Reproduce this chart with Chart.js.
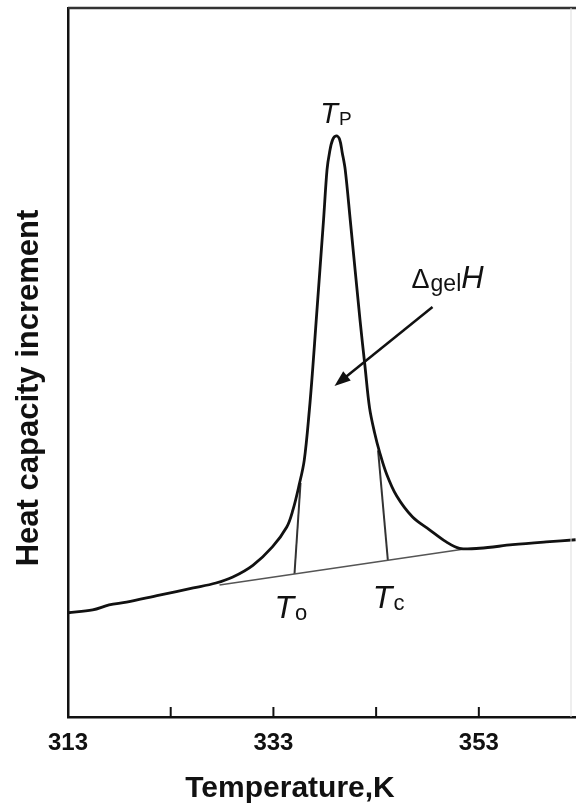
<!DOCTYPE html>
<html>
<head>
<meta charset="utf-8">
<script src="https://cdn.jsdelivr.net/npm/chart.js@4/dist/chart.umd.min.js"></script>
<style>
  html, body { margin: 0; padding: 0; background: #fff; }
  #wrap { width: 576px; height: 810px; }
</style>
</head>
<body>
<div id="wrap"><canvas id="dsc"></canvas></div>
<script>
// DSC trace (K vs. arbitrary heat capacity units)
const temperature = [
  313.0, 315.4, 317.0, 318.7, 321.9, 325.2, 327.4, 329.05, 331.0,
  332.9, 334.3, 334.9, 335.5, 336.0, 336.5, 336.84, 337.17, 337.88, 338.22,
  338.46, 338.76, 339.12, 339.44, 339.70, 339.99, 340.48, 341.43, 341.92, 342.36,
  342.85, 343.33, 344.01, 344.99, 346.55, 348.20, 349.83, 351.12, 353.07, 356.28,
  359.56, 362.42
];
const heatCapacity = [
  14.7, 15.1, 15.8, 16.2, 17.2, 18.2, 18.9, 19.75, 21.4,
  24.0, 26.8, 29.2, 32.7, 36.2, 43.3, 49.4, 56.0, 70.1, 77.2,
  79.6, 81.4, 81.95, 81.5, 79.6, 77.2, 70.1, 56.0, 49.4, 43.6,
  40.1, 37.4, 34.3, 31.2, 28.2, 26.4, 24.7, 23.8, 23.8, 24.3,
  24.7, 25.0
];

// construction lines
const baselineT = [327.75, 351.61];
const baselineCp = [18.62, 23.70];
const onsetT = [335.05, 335.64];
const onsetCp = [20.17, 33.0];
const endsetT = [344.14, 343.19];
const endsetCp = [22.14, 37.6];
const arrowT = [348.49, 338.95];
const arrowCp = [57.83, 46.69];

const xTicks = [313, 323, 333, 343, 353];
const xTickLabels = ["313", "", "333", "", "353"];

const FONT = "'Liberation Sans', Arial, sans-serif";

function pts(xs, ys) {
  return xs.map((x, i) => ({ x: x, y: ys[i] }));
}

// main text plus a subscript, returns the x where it ends
function subText(ctx, x, y, main, mainFont, sub, subFont, subDy) {
  ctx.font = mainFont;
  ctx.fillText(main, x, y);
  const w = ctx.measureText(main).width;
  ctx.font = subFont;
  ctx.fillText(sub, x + w + 1, y + subDy);
  return x + w + 1 + ctx.measureText(sub).width;
}

const decorations = {
  id: "decorations",
  afterDatasetsDraw(chart) {
    const { ctx, chartArea: a, scales: { x, y } } = chart;
    ctx.save();

    // top and right frame
    ctx.strokeStyle = "#333";
    ctx.lineWidth = 2.5;
    ctx.beginPath();
    ctx.moveTo(a.left, a.top);
    ctx.lineTo(a.right, a.top);
    ctx.stroke();
    ctx.strokeStyle = "#ddd";
    ctx.lineWidth = 1;
    ctx.beginPath();
    ctx.moveTo(a.right - 5, a.top);
    ctx.lineTo(a.right - 5, a.bottom);
    ctx.stroke();

    // inward ticks on the temperature axis
    ctx.strokeStyle = "#111";
    ctx.lineWidth = 2;
    xTicks.slice(1).forEach(t => {
      const px = x.getPixelForValue(t);
      ctx.beginPath();
      ctx.moveTo(px, a.bottom);
      ctx.lineTo(px, a.bottom - 10);
      ctx.stroke();
    });

    // arrow into the peak area
    const x0 = x.getPixelForValue(arrowT[0]), y0 = y.getPixelForValue(arrowCp[0]);
    const x1 = x.getPixelForValue(arrowT[1]), y1 = y.getPixelForValue(arrowCp[1]);
    const ang = Math.atan2(y1 - y0, x1 - x0);
    ctx.lineWidth = 2.5;
    ctx.beginPath();
    ctx.moveTo(x0, y0);
    ctx.lineTo(x1 - 12 * Math.cos(ang), y1 - 12 * Math.sin(ang));
    ctx.stroke();
    ctx.fillStyle = "#111";
    ctx.beginPath();
    ctx.moveTo(x1, y1);
    ctx.lineTo(x1 - 16 * Math.cos(ang) + 6 * Math.sin(ang), y1 - 16 * Math.sin(ang) - 6 * Math.cos(ang));
    ctx.lineTo(x1 - 16 * Math.cos(ang) - 6 * Math.sin(ang), y1 - 16 * Math.sin(ang) + 6 * Math.cos(ang));
    ctx.closePath();
    ctx.fill();

    // labels
    ctx.fillStyle = "#111";
    ctx.textBaseline = "alphabetic";
    ctx.textAlign = "left";

    const peak = heatCapacity.indexOf(Math.max(...heatCapacity));
    const pkx = x.getPixelForValue(temperature[peak]);
    const pky = y.getPixelForValue(heatCapacity[peak]);
    subText(ctx, pkx - 16, pky - 13, "T", "italic 29px " + FONT, "P", "19px " + FONT, 2);

    const ox = x.getPixelForValue(onsetT[0]), oy = y.getPixelForValue(onsetCp[0]);
    subText(ctx, ox - 20, oy + 44, "T", "italic 32px " + FONT, "o", "22px " + FONT, 2);

    const cx = x.getPixelForValue(endsetT[0]), cy = y.getPixelForValue(endsetCp[0]);
    subText(ctx, cx - 15, cy + 48, "T", "italic 32px " + FONT, "c", "22px " + FONT, 2);

    let hx = subText(ctx, x0 - 21, y0 - 19, "\u0394", "27px " + FONT, "gel", "23px " + FONT, 3);
    ctx.font = "italic 31px " + FONT;
    ctx.fillText("H", hx, y0 - 19);

    // axis titles
    ctx.font = "bold 30px " + FONT;
    ctx.textAlign = "center";
    ctx.fillText("Temperature,K", 290, 797);

    ctx.translate(38, 388);
    ctx.rotate(-Math.PI / 2);
    ctx.font = "bold 31px " + FONT;
    ctx.fillText("Heat capacity increment", 0, 0);

    ctx.restore();
  }
};

const ctx = document.getElementById("dsc").getContext("2d");

new Chart(ctx, {
  type: "scatter",
  data: {
    datasets: [
      {
        data: pts(temperature, heatCapacity),
        showLine: true,
        borderColor: "#111",
        borderWidth: 2.8,
        pointRadius: 0,
        tension: 0.35
      },
      {
        data: pts(baselineT, baselineCp),
        showLine: true,
        borderColor: "#555",
        borderWidth: 1.6,
        pointRadius: 0
      },
      {
        data: pts(onsetT, onsetCp),
        showLine: true,
        borderColor: "#333",
        borderWidth: 2,
        pointRadius: 0
      },
      {
        data: pts(endsetT, endsetCp),
        showLine: true,
        borderColor: "#333",
        borderWidth: 2,
        pointRadius: 0
      }
    ]
  },
  options: {
    responsive: true,
    maintainAspectRatio: false,
    animation: false,
    layout: { padding: { top: 8, right: 0, bottom: 0, left: 0 } },
    plugins: {
      legend: { display: false },
      tooltip: { enabled: false }
    },
    scales: {
      x: {
        type: "linear",
        min: 313,
        max: 362.46,
        grid: { display: false },
        border: { display: true, color: "#111", width: 2.5 },
        afterBuildTicks: s => { s.ticks = xTicks.map(v => ({ value: v })); },
        afterFit: s => { s.height = 93; },
        ticks: {
          autoSkip: false,
          maxRotation: 0,
          padding: 4,
          color: "#111",
          font: { family: FONT, size: 24, weight: "bold" },
          callback: (v, i) => xTickLabels[i]
        }
      },
      y: {
        min: 0,
        max: 100,
        grid: { display: false },
        border: { display: true, color: "#111", width: 2.5 },
        ticks: { display: false },
        afterFit: s => { s.width = 68; }
      }
    }
  },
  plugins: [decorations]
});
</script>
</body>
</html>
